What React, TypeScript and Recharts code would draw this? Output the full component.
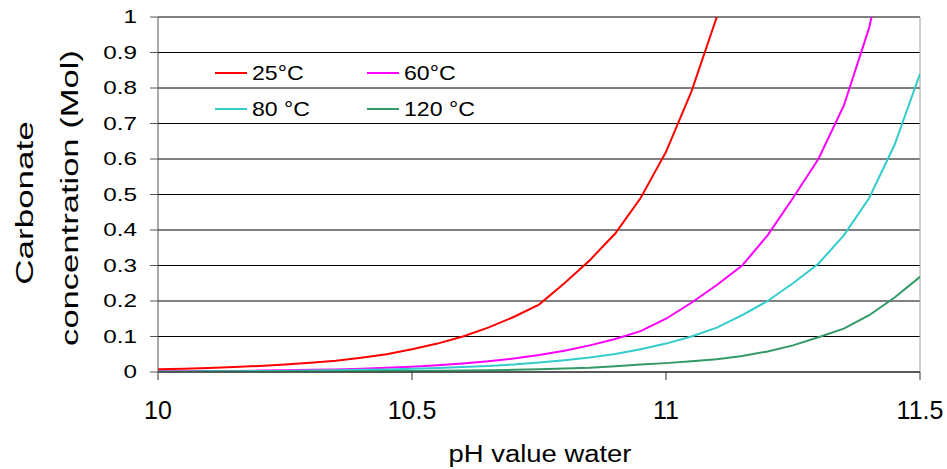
import React from "react";
import { LineChart, Line, XAxis, YAxis, CartesianGrid, Legend, ReferenceLine } from "recharts";

const PH = [10, 10.05, 10.1, 10.15, 10.2, 10.25, 10.3, 10.35, 10.4, 10.45, 10.5, 10.55, 10.6, 10.65, 10.7, 10.75, 10.8, 10.85, 10.9, 10.95, 11, 11.05, 11.1, 11.15, 11.2, 11.25, 11.3, 11.35, 11.4, 11.45, 11.5];
const T25 = [0.008, 0.009, 0.011, 0.014, 0.017, 0.021, 0.026, 0.032, 0.04, 0.05, 0.064, 0.08, 0.1, 0.125, 0.155, 0.19, 0.25, 0.315, 0.39, 0.49, 0.62, 0.79, 1.0, 1.27, null, null, null, null, null, null, null];
const T60 = [0.002, 0.002, 0.003, 0.003, 0.004, 0.005, 0.006, 0.007, 0.009, 0.012, 0.015, 0.019, 0.024, 0.03, 0.038, 0.048, 0.06, 0.075, 0.093, 0.115, 0.15, 0.195, 0.245, 0.3, 0.385, 0.49, 0.6, 0.75, 0.97, 1.3, null];
const T80 = [0.001, 0.001, 0.002, 0.002, 0.003, 0.003, 0.004, 0.005, 0.006, 0.007, 0.009, 0.011, 0.014, 0.017, 0.021, 0.027, 0.033, 0.041, 0.051, 0.064, 0.08, 0.1, 0.125, 0.16, 0.2, 0.25, 0.305, 0.385, 0.49, 0.64, 0.84];
const T120 = [0.0005, 0.0006, 0.0007, 0.0008, 0.001, 0.0012, 0.0014, 0.0017, 0.002, 0.0025, 0.003, 0.0035, 0.004, 0.005, 0.006, 0.008, 0.01, 0.012, 0.016, 0.021, 0.025, 0.03, 0.036, 0.045, 0.058, 0.075, 0.098, 0.122, 0.16, 0.21, 0.268];

const X_TICKS = [10, 10.5, 11, 11.5];
const Y_TICKS = [0, 0.1, 0.2, 0.3, 0.4, 0.5, 0.6, 0.7, 0.8, 0.9, 1];

const SERIES = [
  { key: "t25", name: "25°C", color: "#ff0000", values: T25 },
  { key: "t60", name: "60°C", color: "#ff00ff", values: T60 },
  { key: "t80", name: "80 °C", color: "#33cccc", values: T80 },
  { key: "t120", name: "120 °C", color: "#339966", values: T120 },
];

const data = PH.map((ph, i) => {
  const row: any = { ph };
  SERIES.forEach((s) => {
    row[s.key] = s.values[i];
  });
  return row;
});

const FONT = "'Liberation Sans', Arial, sans-serif";

const YTick = (props: any) => {
  const { x, y, payload } = props;
  return (
    <text
      x={0}
      y={0}
      transform={`translate(${x},${y}) scale(1.35,1)`}
      textAnchor="end"
      dy="0.355em"
      fontSize={18}
      fontFamily={FONT}
      fill="#000"
    >
      {String(payload.value)}
    </text>
  );
};

const XTick = (props: any) => {
  const { x, y, payload } = props;
  return (
    <text x={x} y={y + 37} textAnchor="middle" fontSize={25} fontFamily={FONT} fill="#000">
      {String(payload.value)}
    </text>
  );
};

const XLabel = () => (
  <text
    x={0}
    y={0}
    transform="translate(540,462) scale(1.12,1)"
    textAnchor="middle"
    fontSize={24.5}
    fontFamily={FONT}
    fill="#000"
  >
    pH value water
  </text>
);

const YLabel = () => (
  <g>
    <text
      x={0}
      y={0}
      transform="translate(33,203) rotate(-90) scale(1.46,1)"
      textAnchor="middle"
      fontSize={24}
      fontFamily={FONT}
      fill="#000"
    >
      Carbonate
    </text>
    <text
      x={0}
      y={0}
      transform="translate(78,198) rotate(-90) scale(1.44,1)"
      textAnchor="middle"
      fontSize={24}
      fontFamily={FONT}
      fill="#000"
    >
      concentration (Mol)
    </text>
  </g>
);

const renderLegend = () => {
  return (
    <div
      style={{
        display: "grid",
        gridTemplateColumns: "152px 152px",
        gridAutoRows: "36px",
        fontFamily: FONT,
      }}
    >
      {SERIES.map((s) => (
        <div key={s.key} style={{ display: "flex", alignItems: "center" }}>
          <svg width={32} height={4} style={{ display: "block" }}>
            <line x1={0} y1={2} x2={32} y2={2} stroke={s.color} strokeWidth={2} />
          </svg>
          <span
            style={{
              marginLeft: 5,
              fontSize: 21,
              color: "#000",
              display: "inline-block",
              transform: "scaleX(1.1)",
              transformOrigin: "left center",
              whiteSpace: "nowrap",
            }}
          >
            {s.name}
          </span>
        </div>
      ))}
    </div>
  );
};

export default function App() {
  return (
    <div style={{ position: "absolute", left: 0, top: 0, width: 947, height: 469, background: "#fff" }}>
      <LineChart
        width={947}
        height={469}
        data={data}
        margin={{ top: 17, right: 27, left: 0, bottom: 0 }}
        style={{ background: "#fff" }}
      >
        <CartesianGrid vertical={false} stroke="#000" strokeWidth={1} />
        <XAxis
          type="number"
          dataKey="ph"
          domain={[10, 11.5]}
          ticks={X_TICKS}
          allowDataOverflow
          height={97}
          tickSize={8}
          tickMargin={2}
          stroke="#333"
          tick={<XTick />}
          label={<XLabel />}
        />
        <YAxis
          type="number"
          domain={[0, 1]}
          ticks={Y_TICKS}
          allowDataOverflow
          width={158}
          tickSize={8}
          tickMargin={13}
          stroke="#555"
          tick={<YTick />}
          label={<YLabel />}
        />
        <ReferenceLine x={11.5} stroke="#a0a0a0" strokeWidth={1} />
        <Legend
          verticalAlign="middle"
          layout="horizontal"
          wrapperStyle={{ position: "absolute", left: 215, top: 55, width: 310, height: 72 }}
          content={renderLegend}
        />
        {SERIES.map((s) => (
          <Line
            key={s.key}
            type="linear"
            dataKey={s.key}
            name={s.name}
            stroke={s.color}
            strokeWidth={2}
            dot={false}
            activeDot={false}
            isAnimationActive={false}
            connectNulls={false}
          />
        ))}
      </LineChart>
    </div>
  );
}
